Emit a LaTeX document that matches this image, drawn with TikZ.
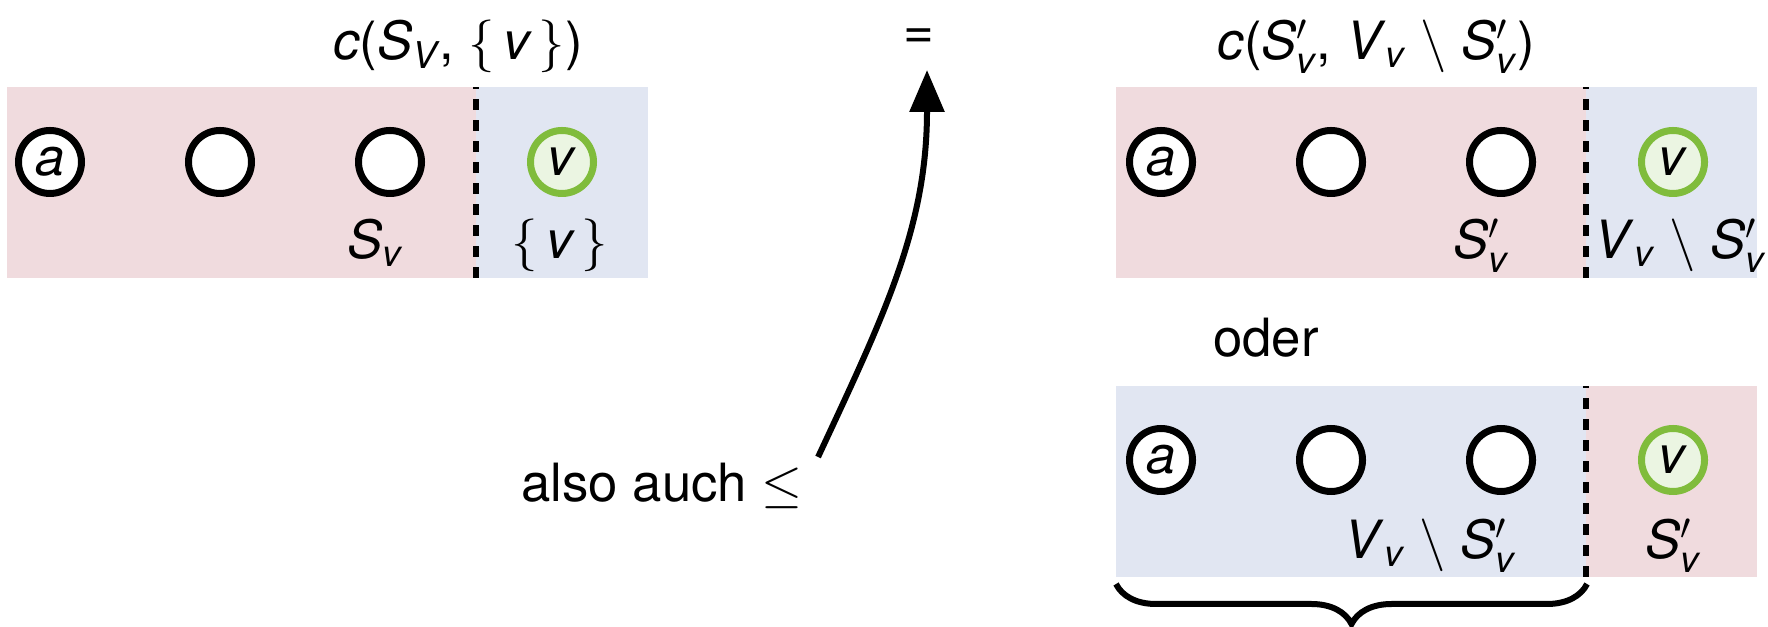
\RequirePackage{fix-cm}
\documentclass[tikz,border=0pt]{standalone}
\usepackage{amsmath}
\usepackage{fontspec}
\setmainfont{TeX Gyre Heros}
\usetikzlibrary{arrows.meta,positioning,decorations.pathreplacing}
\definecolor{setpink}{RGB}{240,219,222}
\definecolor{setblue}{RGB}{225,230,242}
\definecolor{vgreen}{RGB}{128,188,60}
\definecolor{vfill}{RGB}{235,245,226}
\newcommand{\itx}[1]{\textit{#1}}
\tikzset{
  knode/.style={circle,draw,line width=0.07cm,fill=white,minimum size=0.63cm,inner sep=0pt},
  vnode/.style={knode,draw=vgreen,fill=vfill},
  cutline/.style={line width=0.065cm,dash pattern=on 0.11cm off 0.10cm},
  setlbl/.style={anchor=base,inner sep=0pt},
  arr/.style={-{Triangle[length=0.42cm,width=0.34cm]},line width=0.06cm},
  brc/.style={decorate,decoration={brace,amplitude=0.4cm,mirror},line width=0.06cm}
}
\begin{document}
\begin{tikzpicture}[font=\fontsize{15}{18}\selectfont, node distance=1.70cm, on grid]
\useasboundingbox (0,0) rectangle (17.68,6.27);
\fill[setpink] (0.07,3.49) rectangle (4.76,5.40);
\fill[setblue] (4.76,3.49) rectangle (6.48,5.40);
\draw[cutline] (4.76,3.49) -- (4.76,5.40);
\fill[setpink] (11.16,3.49) rectangle (15.86,5.40);
\fill[setblue] (15.86,3.49) rectangle (17.57,5.40);
\draw[cutline] (15.86,3.49) -- (15.86,5.40);
\fill[setblue] (11.16,0.50) rectangle (15.86,2.41);
\fill[setpink] (15.86,0.50) rectangle (17.57,2.41);
\draw[cutline] (15.86,0.50) -- (15.86,2.41);

\node[knode] (la) at (0.50,4.65) {\itx{a}};
\node[knode, right=of la] (l2) {};
\node[knode, right=of l2] (l3) {};
\node[vnode, right=1.72cm of l3] (lv) {\itx{v}};
\node[setlbl] (lS) at (3.75,3.68) {\itx{S}$_{\itx{v}}$};
\node[setlbl] (lV) at (5.60,3.68) {$\{\,\itx{v}\,\}$};
\node[setlbl] (ltitle) at (4.58,5.67) {\itx{c}(\itx{S}$_{\itx{V}}$, $\{\,\itx{v}\,\}$)};

\node[knode] (ta) at (11.61,4.65) {\itx{a}};
\node[knode, right=of ta] (t2) {};
\node[knode, right=of t2] (t3) {};
\node[vnode, right=1.72cm of t3] (tv) {\itx{v}};
\node[setlbl] (tS) at (14.81,3.68) {\itx{S}$'_{\itx{v}}$};
\node[setlbl] (tV) at (16.80,3.68) {\itx{V}$_{\itx{v}}\ \setminus\ $\itx{S}$'_{\itx{v}}$};
\node[setlbl] (ttitle) at (13.76,5.67) {\itx{c}(\itx{S}$'_{\itx{v}}$, \itx{V}$_{\itx{v}}\ \setminus\ $\itx{S}$'_{\itx{v}}$)};

\node[setlbl] (oder) at (12.66,2.70) {oder};

\node[knode] (ba) at (11.61,1.67) {\itx{a}};
\node[knode, right=of ba] (b2) {};
\node[knode, right=of b2] (b3) {};
\node[vnode, right=1.72cm of b3] (bv) {\itx{v}};
\node[setlbl] (bV) at (14.30,0.68) {\itx{V}$_{\itx{v}}\ \setminus\ $\itx{S}$'_{\itx{v}}$};
\node[setlbl] (bS) at (16.73,0.68) {\itx{S}$'_{\itx{v}}$};
\draw[brc] (11.16,0.43) -- (15.87,0.43);

\node (eq) at (9.19,5.88) {=};
\node[anchor=base] (also) at (6.62,1.25) {also auch $\leq$};
\draw[arr] ([xshift=0.03cm,yshift=0.45cm]also.base east) to[out=65,in=-90] ([xshift=0.08cm,yshift=-0.31cm]eq.center);
\end{tikzpicture}
\end{document}
